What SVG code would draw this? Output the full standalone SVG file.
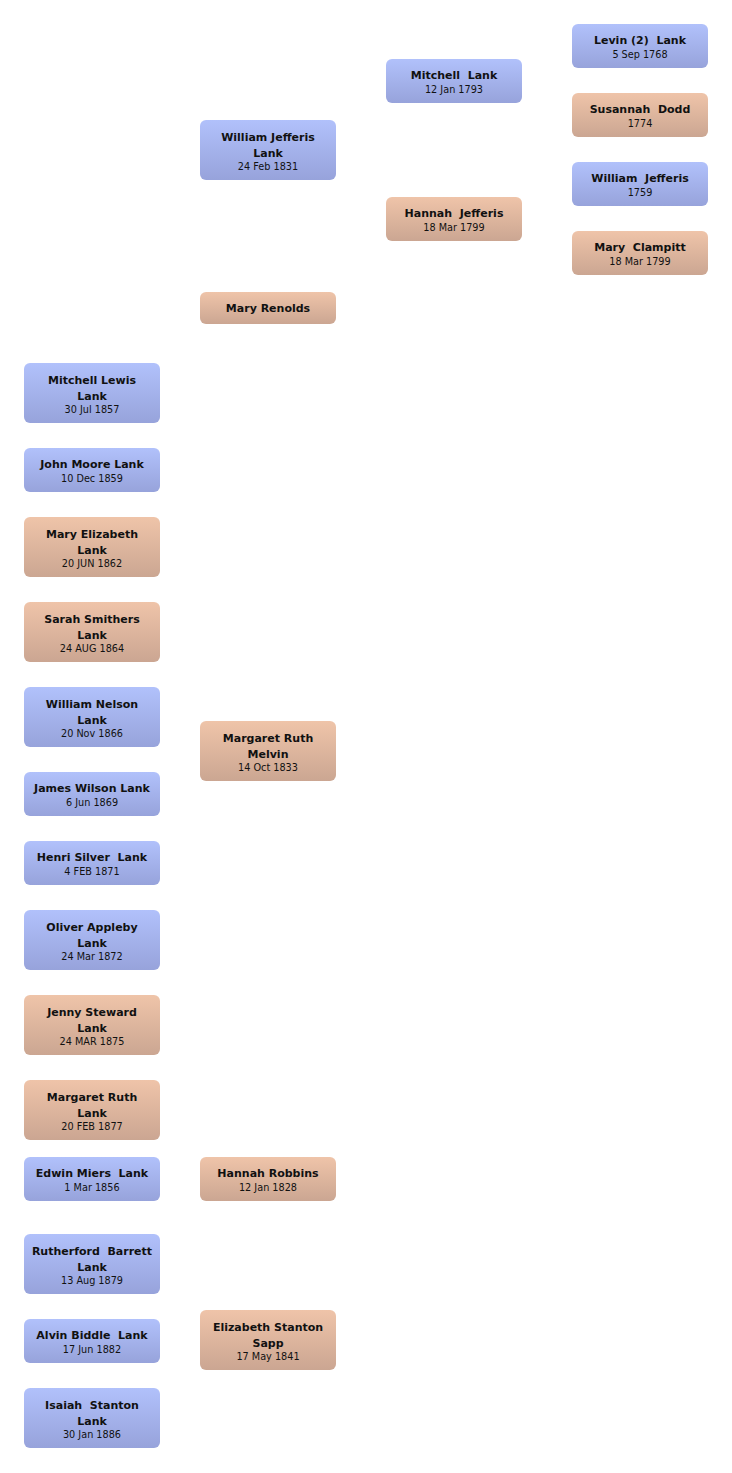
<svg xmlns="http://www.w3.org/2000/svg" width="732" height="1473" viewBox="0 0 732 1473" xml:space="preserve">
<defs>
<linearGradient id="gb" x1="0" y1="0" x2="0" y2="1"><stop offset="0" stop-color="#b1c1fb"/><stop offset="1" stop-color="#97a3db"/></linearGradient>
<linearGradient id="gp" x1="0" y1="0" x2="0" y2="1"><stop offset="0" stop-color="#efc4a9"/><stop offset="1" stop-color="#cba692"/></linearGradient>
<style>
.b{fill:url(#gb)}
.p{fill:url(#gp)}
text{font-family:"DejaVu Sans",sans-serif;text-anchor:middle;fill:#111;white-space:pre}
.n{font-size:11px;font-weight:bold}
.d{font-size:9.7px}
</style>
</defs>
<rect width="732" height="1473" fill="#fff"/>
<g id="connectors"></g>
<g id="levin"><rect class="b" x="572" y="24" width="136" height="44" rx="6"/><text class="n" x="640" y="44">Levin (2)  Lank</text><text class="d" x="640" y="58">5 Sep 1768</text></g>
<g id="susannah"><rect class="p" x="572" y="93" width="136" height="44" rx="6"/><text class="n" x="640" y="113">Susannah  Dodd</text><text class="d" x="640" y="127">1774</text></g>
<g id="williamj"><rect class="b" x="572" y="162" width="136" height="44" rx="6"/><text class="n" x="640" y="182">William  Jefferis</text><text class="d" x="640" y="196">1759</text></g>
<g id="maryc"><rect class="p" x="572" y="231" width="136" height="44" rx="6"/><text class="n" x="640" y="251">Mary  Clampitt</text><text class="d" x="640" y="265">18 Mar 1799</text></g>
<g id="mitchell"><rect class="b" x="386" y="59" width="136" height="44" rx="6"/><text class="n" x="454" y="79">Mitchell  Lank</text><text class="d" x="454" y="93">12 Jan 1793</text></g>
<g id="hannahj"><rect class="p" x="386" y="197" width="136" height="44" rx="6"/><text class="n" x="454" y="217">Hannah  Jefferis</text><text class="d" x="454" y="231">18 Mar 1799</text></g>
<g id="wjl"><rect class="b" x="200" y="120" width="136" height="60" rx="6"/><text class="n" x="268" y="141">William Jefferis</text><text class="n" x="268" y="157">Lank</text><text class="d" x="268" y="170">24 Feb 1831</text></g>
<g id="maryr"><rect class="p" x="200" y="292" width="136" height="32" rx="6"/><text class="n" x="268" y="312">Mary Renolds</text></g>
<g id="mrm"><rect class="p" x="200" y="721" width="136" height="60" rx="6"/><text class="n" x="268" y="742">Margaret Ruth</text><text class="n" x="268" y="758">Melvin</text><text class="d" x="268" y="771">14 Oct 1833</text></g>
<g id="hannahr"><rect class="p" x="200" y="1157" width="136" height="44" rx="6"/><text class="n" x="268" y="1177">Hannah Robbins</text><text class="d" x="268" y="1191">12 Jan 1828</text></g>
<g id="ess"><rect class="p" x="200" y="1310" width="136" height="60" rx="6"/><text class="n" x="268" y="1331">Elizabeth Stanton</text><text class="n" x="268" y="1347">Sapp</text><text class="d" x="268" y="1360">17 May 1841</text></g>
<g id="mll"><rect class="b" x="24" y="363" width="136" height="60" rx="6"/><text class="n" x="92" y="384">Mitchell Lewis</text><text class="n" x="92" y="400">Lank</text><text class="d" x="92" y="413">30 Jul 1857</text></g>
<g id="jml"><rect class="b" x="24" y="448" width="136" height="44" rx="6"/><text class="n" x="92" y="468">John Moore Lank</text><text class="d" x="92" y="482">10 Dec 1859</text></g>
<g id="mel"><rect class="p" x="24" y="517" width="136" height="60" rx="6"/><text class="n" x="92" y="538">Mary Elizabeth</text><text class="n" x="92" y="554">Lank</text><text class="d" x="92" y="567">20 JUN 1862</text></g>
<g id="ssl"><rect class="p" x="24" y="602" width="136" height="60" rx="6"/><text class="n" x="92" y="623">Sarah Smithers</text><text class="n" x="92" y="639">Lank</text><text class="d" x="92" y="652">24 AUG 1864</text></g>
<g id="wnl"><rect class="b" x="24" y="687" width="136" height="60" rx="6"/><text class="n" x="92" y="708">William Nelson</text><text class="n" x="92" y="724">Lank</text><text class="d" x="92" y="737">20 Nov 1866</text></g>
<g id="jwl"><rect class="b" x="24" y="772" width="136" height="44" rx="6"/><text class="n" x="92" y="792">James Wilson Lank</text><text class="d" x="92" y="806">6 Jun 1869</text></g>
<g id="hsl"><rect class="b" x="24" y="841" width="136" height="44" rx="6"/><text class="n" x="92" y="861">Henri Silver  Lank</text><text class="d" x="92" y="875">4 FEB 1871</text></g>
<g id="oal"><rect class="b" x="24" y="910" width="136" height="60" rx="6"/><text class="n" x="92" y="931">Oliver Appleby</text><text class="n" x="92" y="947">Lank</text><text class="d" x="92" y="960">24 Mar 1872</text></g>
<g id="jsl"><rect class="p" x="24" y="995" width="136" height="60" rx="6"/><text class="n" x="92" y="1016">Jenny Steward</text><text class="n" x="92" y="1032">Lank</text><text class="d" x="92" y="1045">24 MAR 1875</text></g>
<g id="mrl"><rect class="p" x="24" y="1080" width="136" height="60" rx="6"/><text class="n" x="92" y="1101">Margaret Ruth</text><text class="n" x="92" y="1117">Lank</text><text class="d" x="92" y="1130">20 FEB 1877</text></g>
<g id="eml"><rect class="b" x="24" y="1157" width="136" height="44" rx="6"/><text class="n" x="92" y="1177">Edwin Miers  Lank</text><text class="d" x="92" y="1191">1 Mar 1856</text></g>
<g id="rbl"><rect class="b" x="24" y="1234" width="136" height="60" rx="6"/><text class="n" x="92" y="1255">Rutherford  Barrett</text><text class="n" x="92" y="1271">Lank</text><text class="d" x="92" y="1284">13 Aug 1879</text></g>
<g id="abl"><rect class="b" x="24" y="1319" width="136" height="44" rx="6"/><text class="n" x="92" y="1339">Alvin Biddle  Lank</text><text class="d" x="92" y="1353">17 Jun 1882</text></g>
<g id="isl"><rect class="b" x="24" y="1388" width="136" height="60" rx="6"/><text class="n" x="92" y="1409">Isaiah  Stanton</text><text class="n" x="92" y="1425">Lank</text><text class="d" x="92" y="1438">30 Jan 1886</text></g>
</svg>
